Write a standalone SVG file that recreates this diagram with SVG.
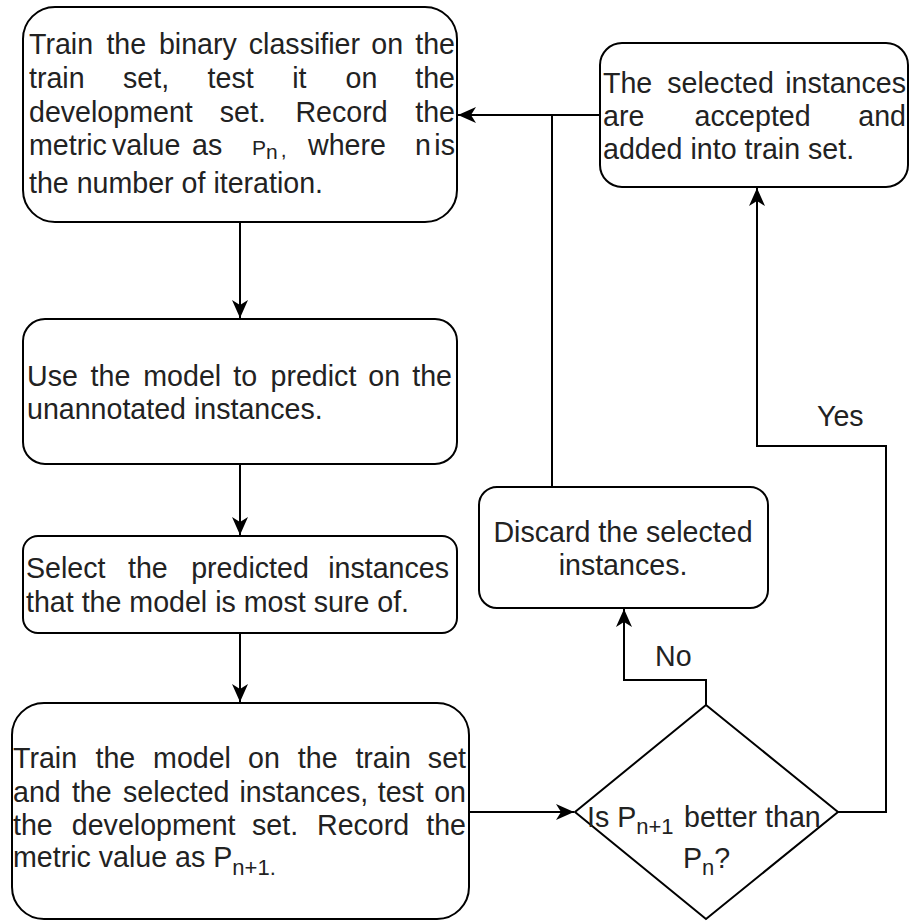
<svg xmlns="http://www.w3.org/2000/svg" width="910" height="921" viewBox="0 0 910 921">
<style>
.box{fill:#fff;stroke:#000;stroke-width:2}
.t{font-family:"Liberation Sans",Arial,sans-serif;font-size:28.6px;fill:#222}
.s{font-size:21px}
.s2{font-size:22px}
.c{fill:none;stroke:#000;stroke-width:2}
</style>
<defs>
<marker id="arr" markerUnits="userSpaceOnUse" viewBox="-19 -9 20 18" markerWidth="20" markerHeight="18" refX="0" refY="0" orient="auto">
<path d="M0,0 L-18,-8 L-13,0 L-18,8 Z" fill="#000"/>
</marker>
</defs>
<rect width="910" height="921" fill="#fff"/>
<g id="connectors">
<path class="c" d="M240,222 V318" marker-end="url(#arr)"/>
<path class="c" d="M240,464 V535" marker-end="url(#arr)"/>
<path class="c" d="M240,633 V702" marker-end="url(#arr)"/>
<path class="c" d="M469,812 H574" marker-end="url(#arr)"/>
<path class="c" d="M706,705 V680 H624 V609" marker-end="url(#arr)"/>
<path class="c" d="M838,812 H886 V446 H757 V188" marker-end="url(#arr)"/>
<path class="c" d="M552,487 V115"/>
<path class="c" d="M600,115 H458" marker-end="url(#arr)"/>
<text class="t" x="655" y="666">No</text>
<text class="t" x="817" y="426">Yes</text>
</g>
<g id="node-train">
<rect class="box" x="23" y="7" width="434" height="215" rx="32" ry="32"/>
<text class="t" y="54"><tspan x="29">Train</tspan><tspan x="106.4">the</tspan><tspan x="158.9">binary</tspan><tspan x="248.8">classifier</tspan><tspan x="371.3">on</tspan><tspan x="455" text-anchor="end">the</tspan></text>
<text class="t" y="88"><tspan x="29">train</tspan><tspan x="123">set,</tspan><tspan x="207.6">test</tspan><tspan x="292.2">it</tspan><tspan x="345.6">on</tspan><tspan x="455" text-anchor="end">the</tspan></text>
<text class="t" y="122"><tspan x="29">development</tspan><tspan x="219.8">set.</tspan><tspan x="295.4">Record</tspan><tspan x="455" text-anchor="end">the</tspan></text>
<text class="t" y="155"><tspan x="29">metric</tspan><tspan x="112">value</tspan><tspan x="192">as</tspan><tspan x="252" class="s">P</tspan><tspan class="s" dy="4">n</tspan><tspan class="s" dx="3" dy="-2">,</tspan><tspan x="308" dy="-2">where</tspan><tspan x="415">n</tspan><tspan x="455" text-anchor="end">is</tspan></text>
<text class="t" x="29" y="193">the number of iteration.</text>
</g>
<g id="node-accepted">
<rect class="box" x="600" y="43" width="308" height="144" rx="22" ry="22"/>
<text class="t" y="93"><tspan x="603">The</tspan><tspan x="667.3">selected</tspan><tspan x="906" text-anchor="end">instances</tspan></text>
<text class="t" y="126"><tspan x="603">are</tspan><tspan x="694.6">accepted</tspan><tspan x="906" text-anchor="end">and</tspan></text>
<text class="t" x="603" y="159">added into train set.</text>
</g>
<g id="node-predict">
<rect class="box" x="23" y="319" width="434" height="145" rx="22" ry="22"/>
<text class="t" y="386"><tspan x="27">Use</tspan><tspan x="90.6">the</tspan><tspan x="143.3">model</tspan><tspan x="233.3">to</tspan><tspan x="270.5">predict</tspan><tspan x="368.3">on</tspan><tspan x="452" text-anchor="end">the</tspan></text>
<text class="t" x="27" y="419">unannotated instances.</text>
</g>
<g id="node-select">
<rect class="box" x="23" y="536" width="434" height="97" rx="15" ry="15"/>
<text class="t" y="578"><tspan x="26">Select</tspan><tspan x="128">the</tspan><tspan x="191.2">predicted</tspan><tspan x="449" text-anchor="end">instances</tspan></text>
<text class="t" x="26" y="612">that the model is most sure of.</text>
</g>
<g id="node-retrain">
<rect class="box" x="12" y="703" width="457" height="216" rx="32" ry="32"/>
<text class="t" y="768"><tspan x="13">Train</tspan><tspan x="95.5">the</tspan><tspan x="153.1">model</tspan><tspan x="248">on</tspan><tspan x="297.8">the</tspan><tspan x="355.4">train</tspan><tspan x="466" text-anchor="end">set</tspan></text>
<text class="t" y="802"><tspan x="13">and</tspan><tspan x="71.9">the</tspan><tspan x="123">selected</tspan><tspan x="239.4">instances,</tspan><tspan x="377.7">test</tspan><tspan x="466" text-anchor="end">on</tspan></text>
<text class="t" y="835"><tspan x="13">the</tspan><tspan x="71.8">development</tspan><tspan x="252">set.</tspan><tspan x="317">Record</tspan><tspan x="466" text-anchor="end">the</tspan></text>
<text class="t" x="13" y="867">metric value as P<tspan class="s2" dy="8">n+1.</tspan></text>
</g>
<g id="node-discard">
<rect class="box" x="479" y="487" width="289" height="121" rx="18" ry="18"/>
<text class="t" x="623" y="542" text-anchor="middle">Discard the selected</text>
<text class="t" x="623" y="575" text-anchor="middle">instances.</text>
</g>
<g id="node-decision">
<polygon class="box" points="706,705 838,812 706,919 575,812"/>
<text class="t" y="827"><tspan x="587">Is P</tspan><tspan class="s2" dy="7">n+1</tspan><tspan x="684" dy="-7">better than</tspan></text>
<text class="t" y="868"><tspan x="683">P</tspan><tspan class="s2" dy="7">n</tspan><tspan dy="-7">?</tspan></text>
</g>
</svg>
